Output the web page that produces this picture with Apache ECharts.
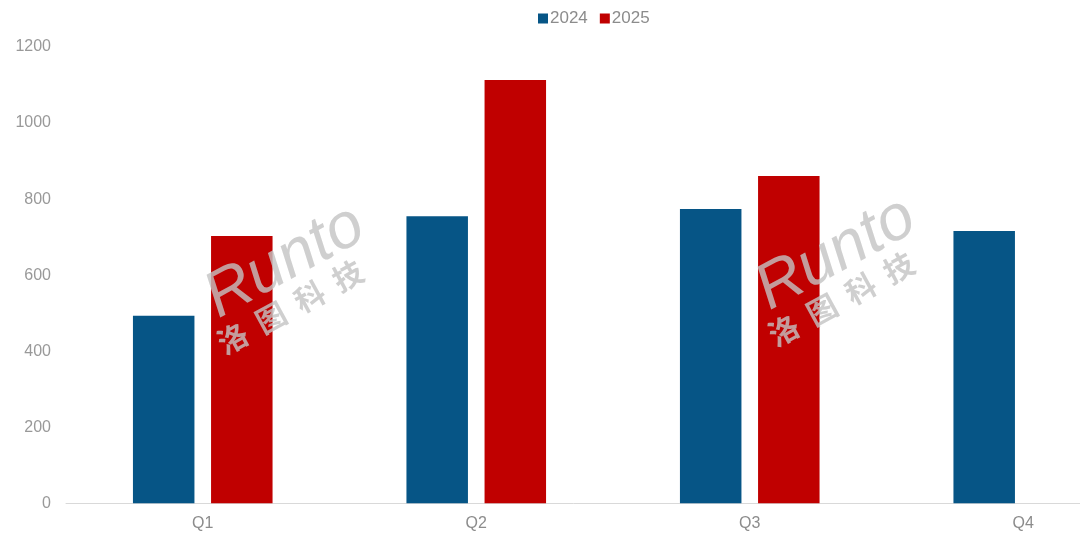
<!DOCTYPE html>
<html>
<head>
<meta charset="utf-8">
<script src="https://cdn.jsdelivr.net/npm/echarts@6/dist/echarts.min.js"></script>
<style>html,body{margin:0;padding:0;background:#fff}#c{width:1080px;height:535px}</style>
</head>
<body>
<div id="c"></div>
<script>
const categories = ['Q1', 'Q2', 'Q3', 'Q4'];
const series2024 = [493, 755, 774, 716];
const series2025 = [703, 1113, 861, null];
const yTicks = [0, 200, 400, 600, 800, 1000, 1200];

const chart = echarts.init(document.getElementById('c'), null, {renderer: 'canvas'});
const font = '"Liberation Sans", Arial, sans-serif';
const wmColor = 'rgba(195,195,195,0.8)';
const wm = function (x, y) {
  return {
    type: 'group', x: x, y: y, rotation: 0.5, z: 100, zlevel: 1, silent: true,
    children: [
      {type: 'text', z: 100, zlevel: 1, style: {text: 'Runto', x: 0, y: 0, fill: wmColor, font: 'italic 64px ' + font, textAlign: 'left', textVerticalAlign: 'middle'}},
      {type: 'text', z: 100, zlevel: 1, style: {text: '洛  图  科  技', x: -12, y: 42, fill: wmColor, font: 'bold 30px "Noto Sans CJK SC", sans-serif', textAlign: 'left', textVerticalAlign: 'middle'}}
    ]
  };
};
chart.setOption({
  animation: false,
  textStyle: {fontFamily: font},
  color: ['#065586', '#C00000'],
  legend: {
    top: 5, left: 533,
    itemWidth: 10, itemHeight: 10, itemGap: 12,
    icon: 'rect',
    textStyle: {color: '#8c8c8c', fontSize: 17, fontFamily: font, padding: [0, 0, 0, -3]},
    data: ['2024', '2025']
  },
  grid: {left: 66, top: 47, width: 1094, height: 456.3, outerBoundsMode: 'none', containLabel: false},
  xAxis: {
    type: 'category', data: categories,
    axisLine: {lineStyle: {color: '#d9d9d9', width: 1}},
    axisTick: {show: false},
    axisLabel: {color: '#8c8c8c', fontSize: 16, margin: 12, fontFamily: font}
  },
  yAxis: {
    type: 'value', min: yTicks[0], max: yTicks[yTicks.length - 1], interval: 200,
    axisLine: {show: false}, axisTick: {show: false},
    splitLine: {show: false},
    axisLabel: {color: '#999999', fontSize: 16, margin: 15, fontFamily: font, formatter: function (v) { return String(v); }}
  },
  series: [
    {name: '2024', type: 'bar', data: series2024, barWidth: 61.5, barGap: '27%'},
    {name: '2025', type: 'bar', data: series2025, barWidth: 61.5, barGap: '27%'}
  ],
  graphic: [wm(210, 303), wm(761, 295)]
});
</script>
</body>
</html>
